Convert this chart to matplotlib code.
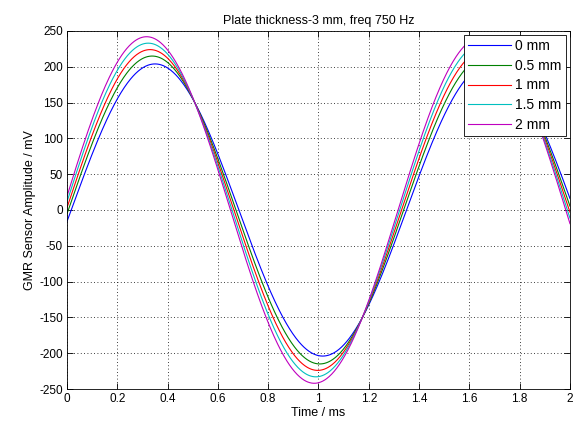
import numpy as np
import matplotlib
matplotlib.use("Agg")
import matplotlib.pyplot as plt
from matplotlib.ticker import FuncFormatter, MultipleLocator

# signal: 750 Hz sine per plate distance, amplitude (mV) and phase (rad)
freq_khz = 0.75
labels = ["0 mm", "0.5 mm", "1 mm", "1.5 mm", "2 mm"]
amplitudes = [204, 215, 224, 233, 242]
phases = [-0.079, -0.025, 0.014, 0.049, 0.079]
colors = ["#0000ff", "#008000", "#ff0000", "#00bfbf", "#bf00bf"]

plt.rcParams["font.family"] = ["Liberation Sans", "DejaVu Sans"]
plt.rcParams["axes.unicode_minus"] = False

fig = plt.figure(figsize=(5.84, 4.28), dpi=100)
ax = fig.add_axes([0.1147, 0.0911, 0.8613, 0.8365])

t = np.linspace(0, 2, 801)
for lab, amp, ph, col in zip(labels, amplitudes, phases, colors):
    ax.plot(t, amp * np.sin(2 * np.pi * freq_khz * t + ph), color=col, lw=0.8, label=lab)

ax.set_xlim(0, 2)
ax.set_ylim(-250, 250)
ax.xaxis.set_major_locator(MultipleLocator(0.2))
ax.yaxis.set_major_locator(MultipleLocator(50))
fmt = FuncFormatter(lambda v, p: "%g" % round(v, 6))
ax.xaxis.set_major_formatter(fmt)
ax.yaxis.set_major_formatter(fmt)
ax.tick_params(direction="in", labelsize=8.5, length=4, width=0.6,
               top=True, right=True, pad=3)
ax.grid(True, linestyle=(0, (1, 3)), color="black", linewidth=0.6)
for s in ax.spines.values():
    s.set_linewidth(0.6)

ax.set_xlabel("Time / ms", fontsize=9, labelpad=1)
ax.set_ylabel("GMR Sensor Amplitude / mV", fontsize=9, labelpad=2)
ax.set_title("Plate thickness-3 mm, freq 750 Hz", fontsize=9, pad=5)

leg = ax.legend(loc="upper right", fontsize=10, fancybox=False, framealpha=1,
                edgecolor="black", borderaxespad=0.3, handlelength=3.1,
                labelspacing=0.4, borderpad=0.3, handletextpad=0.3)
leg.get_frame().set_linewidth(0.6)

fig.savefig("out.png", dpi=100)
